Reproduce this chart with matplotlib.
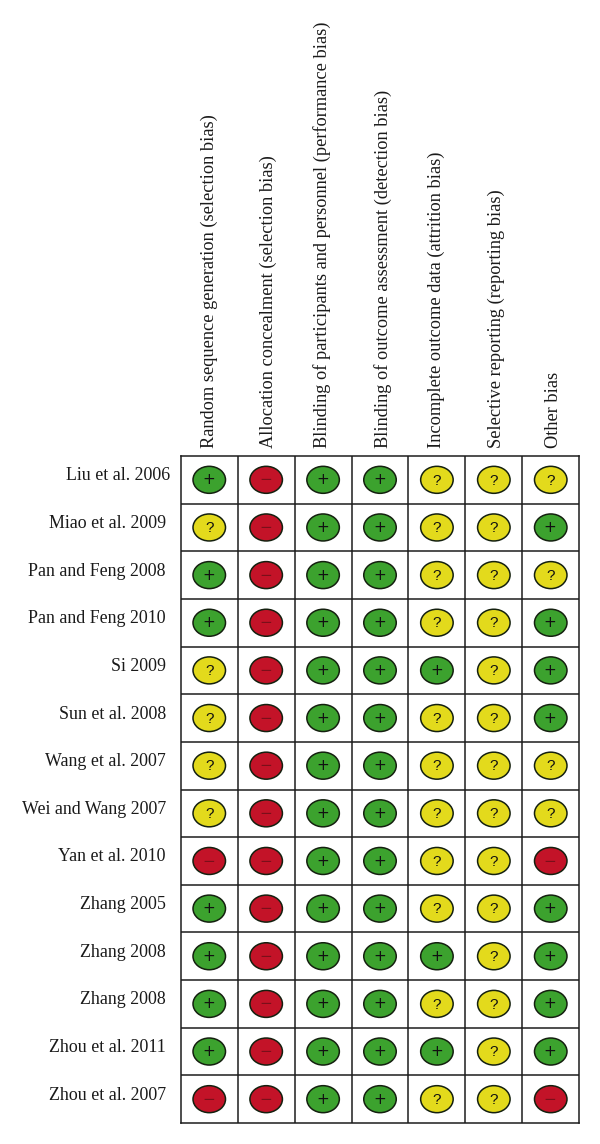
import matplotlib
matplotlib.use("Agg")
import matplotlib.pyplot as plt
from matplotlib.patches import Ellipse

plt.rcParams['font.family'] = ['Liberation Serif', 'DejaVu Serif']

W, H = 600, 1144
GRID_LEFT, GRID_RIGHT = 180.8, 579.2
GRID_TOP, GRID_BOTTOM = 456.0, 1123.0

domains = [
    "Random sequence generation (selection bias)",
    "Allocation concealment (selection bias)",
    "Blinding of participants and personnel (performance bias)",
    "Blinding of outcome assessment (detection bias)",
    "Incomplete outcome data (attrition bias)",
    "Selective reporting (reporting bias)",
    "Other bias",
]
studies = [
    "Liu et al. 2006", "Miao et al. 2009", "Pan and Feng 2008",
    "Pan and Feng 2010", "Si 2009", "Sun et al. 2008", "Wang et al. 2007",
    "Wei and Wang 2007", "Yan et al. 2010", "Zhang 2005", "Zhang 2008",
    "Zhang 2008", "Zhou et al. 2011", "Zhou et al. 2007",
]
ratings = [
    "+-++???",
    "?-++??+",
    "+-++???",
    "+-++??+",
    "?-+++?+",
    "?-++??+",
    "?-++???",
    "?-++???",
    "--++??-",
    "+-++??+",
    "+-+++?+",
    "+-++??+",
    "+-+++?+",
    "--++??-",
]

colors = {"+": "#3ca22e", "-": "#c31328", "?": "#e3da1c"}
glyphs = {"+": "+", "-": "\u2212", "?": "?"}
glyph_shift = {"+": (-0.5, -1.4), "-": (-0.5, -1.4), "?": (0, -0.8)}

fig = plt.figure(figsize=(W / 100, H / 100), dpi=100, facecolor="white")
ax = fig.add_axes([GRID_LEFT / W, 1 - GRID_BOTTOM / H,
                   (GRID_RIGHT - GRID_LEFT) / W,
                   (GRID_BOTTOM - GRID_TOP) / H])
ax.set_xlim(0, len(domains))
ax.set_ylim(len(studies), 0)
ax.set_xticks([])
ax.set_yticks([])
for spine in ax.spines.values():
    spine.set_linewidth(1.1)
    spine.set_color("#1c1c1c")

# cell borders
for i in range(1, len(domains)):
    ax.axvline(i, color="#1c1c1c", lw=1.1)
for i in range(1, len(studies)):
    ax.axhline(i, color="#1c1c1c", lw=1.1)

cell_w = (GRID_RIGHT - GRID_LEFT) / len(domains)
cell_h = (GRID_BOTTOM - GRID_TOP) / len(studies)

for r, row in enumerate(ratings):
    for c, val in enumerate(row):
        ax.add_patch(Ellipse((c + 0.5, r + 0.5), 32.5 / cell_w, 27 / cell_h,
                             facecolor=colors[val], edgecolor="#14200f",
                             lw=1.1, zorder=3))
        dx, dy = glyph_shift[val]
        txt_color = "#7a0f1a" if val == "-" else "#111111"
        ax.text(c + 0.5 + dx / cell_w, r + 0.5 + dy / cell_h, glyphs[val],
                ha="center", va="center_baseline",
                fontsize=11 if val == "?" else 11, color=txt_color,
                family="DejaVu Sans" if val != "?" else "Liberation Sans",
                zorder=4)

# study labels, first one sits a bit further right in the original
for r, name in enumerate(studies):
    xpos = -11 / cell_w if r == 0 else -15 / cell_w
    ax.text(xpos, r + 0.5 - 4 / cell_h, name, ha="right", va="center",
            fontsize=12.9, color="#1a1a1a", clip_on=False)

# column labels
col_x = [209.5, 268, 322, 383.5, 436.5, 496, 553.5]
for x, name in zip(col_x, domains):
    ax.text((x - GRID_LEFT) / cell_w, -7.5 / cell_h, name, rotation=90,
            ha="center", va="bottom", fontsize=13.25, color="#1a1a1a",
            clip_on=False)

fig.savefig("out.png", dpi=100)
